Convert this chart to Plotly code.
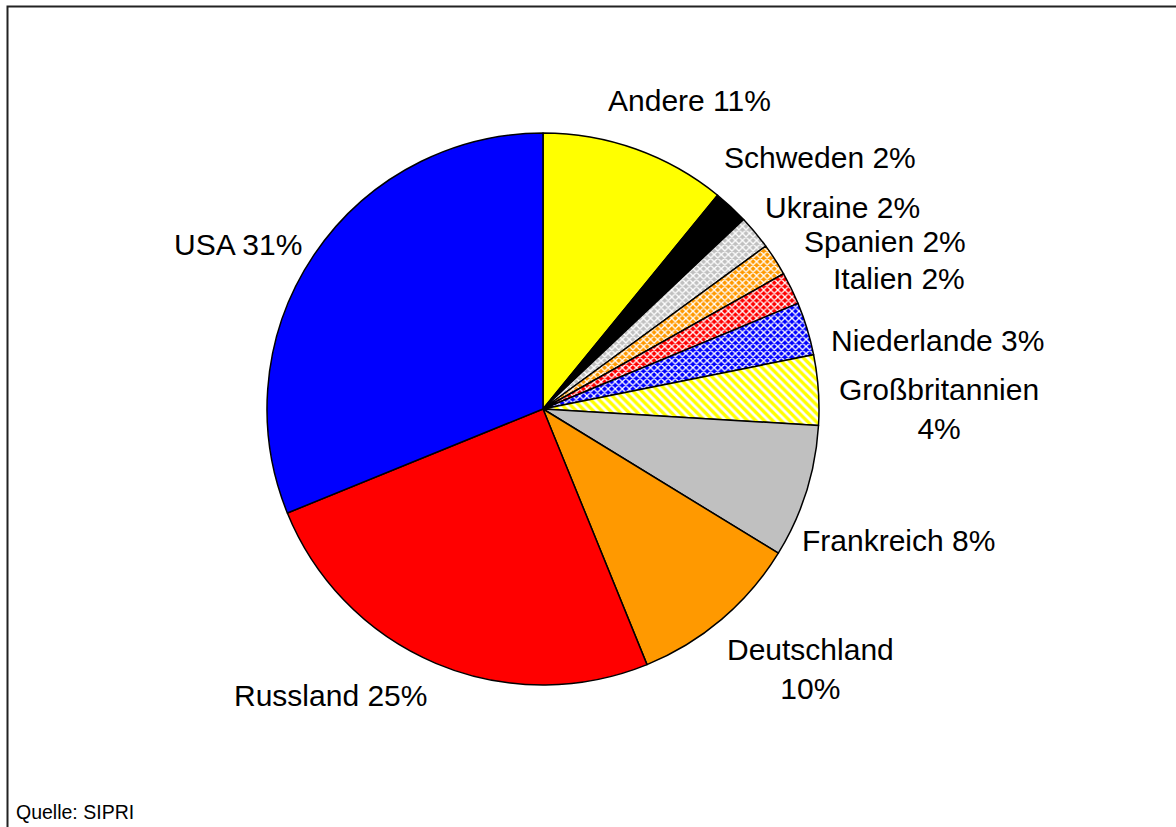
import plotly.graph_objects as go

W, H = 1176, 827

countries = ["Andere", "Schweden", "Ukraine", "Spanien", "Italien", "Niederlande",
             "Großbritannien", "Frankreich", "Deutschland", "Russland", "USA"]
shares = [10.9, 2.05, 2.0, 1.9, 1.9, 3.1, 4.1, 7.8, 10.1, 25.0, 31.15]
pct_labels = ["11%", "2%", "2%", "2%", "2%", "3%", "4%", "8%", "10%", "25%", "31%"]
colors = ["#FFFF00", "#000000", "#C0C0C0", "#FF9900", "#FF0000", "#0000FF",
          "#FFFF00", "#C0C0C0", "#FF9900", "#FF0000", "#0000FF"]
patterns = ["", "", "x", "x", "x", "x", "\\", "", "", "", ""]

# label layout (pixel positions of label centres, and line break choice)
label_pos = [(689, 100), (820, 157), (842, 207), (885, 242), (899, 278), (937, 341),
             (939, 409), (898, 540), (810, 669), (330, 695), (238, 244)]
two_line = [False, False, False, False, False, False, True, False, True, False, False]

fig = go.Figure()
fig.add_trace(go.Pie(
    labels=countries,
    values=shares,
    sort=False,
    direction="clockwise",
    rotation=0,
    textinfo="none",
    hoverinfo="label+percent",
    marker=dict(
        colors=colors,
        line=dict(color="#000000", width=1.5),
        pattern=dict(
            shape=patterns,
            fgcolor="#FFFFFF",
            bgcolor=colors,
            fillmode="replace",
            size=[4, 4, 5, 5, 5, 5, 6, 4, 4, 4, 4],
            solidity=[0.3, 0.3, 0.45, 0.45, 0.45, 0.45, 0.45, 0.3, 0.3, 0.3, 0.3],
        ),
    ),
    domain=dict(x=[267 / W, 819 / W], y=[142 / H, 694 / H]),
    showlegend=False,
))

annotations = []
for name, pct, (px, py), tl in zip(countries, pct_labels, label_pos, two_line):
    txt = f"{name}<br>{pct}" if tl else f"{name} {pct}"
    annotations.append(dict(
        x=px / W, y=1 - py / H, xref="paper", yref="paper",
        text=txt, showarrow=False, xanchor="center", yanchor="middle",
        font=dict(family="Liberation Sans, Arial, sans-serif", size=30, color="#000000"),
        align="center",
    ))
annotations.append(dict(
    x=14 / W, y=1 - 812 / H, xref="paper", yref="paper",
    text="Quelle: SIPRI", showarrow=False, xanchor="left", yanchor="middle",
    font=dict(family="Liberation Sans, Arial, sans-serif", size=19.5, color="#000000"),
))

fig.update_layout(
    width=W, height=H,
    margin=dict(l=0, r=0, t=0, b=0),
    paper_bgcolor="#FFFFFF",
    plot_bgcolor="#FFFFFF",
    annotations=annotations,
    shapes=[dict(type="rect", xref="paper", yref="paper",
                 x0=7.5 / W, x1=1.2, y0=-0.2, y1=1 - 6.5 / H,
                 line=dict(color="#222222", width=2), fillcolor="rgba(0,0,0,0)")],
)

fig.write_html("out.html")
